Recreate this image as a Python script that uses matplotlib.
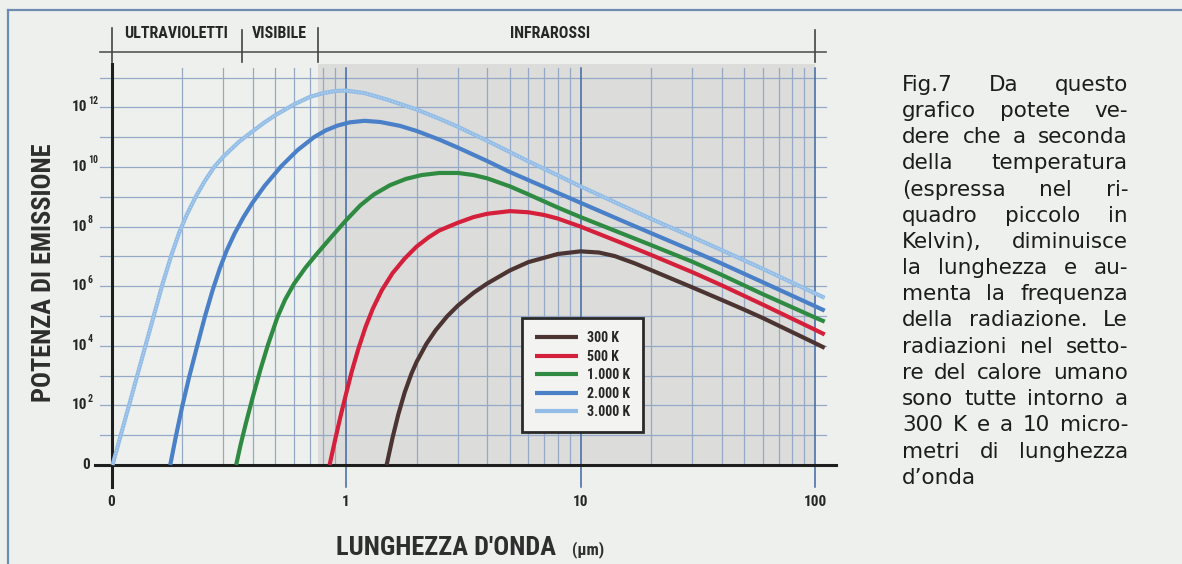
import matplotlib
matplotlib.use("Agg")
import numpy as np
import matplotlib.pyplot as plt
import matplotlib.transforms as mtransforms
from matplotlib.patches import Rectangle

# ---------------------------------------------------------------- data
temperatures = ["300 K", "500 K", "1.000 K", "2.000 K", "3.000 K"]
colors = ["#4b3431", "#d5203b", "#2f8a42", "#4a80c8", "#93bde6"]

# wavelength (µm) and log10 of the emitted power for each temperature
wl_300 = [1.49, 1.58, 1.67, 1.78, 1.9, 2.0, 2.2, 2.41, 2.7, 3.0, 3.5, 4.0, 5.0, 6.0, 8.0, 10,
          12, 14, 17, 20, 30, 40, 50, 60, 100, 110]
lp_300 = [0, 0.92, 1.69, 2.44, 3.06, 3.46, 4.06, 4.52, 4.99, 5.35, 5.78, 6.09, 6.53, 6.81, 7.08, 7.17,
          7.13, 7.01, 6.77, 6.54, 5.96, 5.54, 5.21, 4.93, 4.09, 3.93]

wl_500 = [0.851, 0.9, 0.95, 1.0, 1.06, 1.13, 1.21, 1.3, 1.42, 1.58, 1.78, 2.0, 2.25, 2.5, 3.0,
          3.5, 4.0, 5.0, 6.0, 7.0, 8.0, 10, 15, 20, 30, 40, 60, 100, 110]
lp_500 = [0, 0.87, 1.67, 2.38, 3.16, 3.91, 4.62, 5.24, 5.86, 6.44, 6.93, 7.33, 7.64, 7.87, 8.13,
          8.32, 8.43, 8.52, 8.48, 8.39, 8.27, 8.0, 7.45, 7.05, 6.47, 6.03, 5.38, 4.54, 4.38]

wl_1000 = [0.34, 0.355, 0.375, 0.40, 0.43, 0.465, 0.51, 0.55, 0.60, 0.67, 0.75, 0.87, 1.0, 1.15,
           1.31, 1.54, 1.8, 2.1, 2.5, 3.0, 3.5, 4.0, 5.0, 6.0, 8.0, 10, 15, 20, 30, 40, 60, 100, 110]
lp_1000 = [0, 0.67, 1.43, 2.27, 3.16, 4.04, 4.96, 5.55, 6.08, 6.61, 7.08, 7.67, 8.21, 8.71,
           9.07, 9.39, 9.60, 9.73, 9.80, 9.80, 9.73, 9.62, 9.35, 9.08, 8.64, 8.32, 7.77, 7.38, 6.82,
           6.38, 5.73, 4.95, 4.81]

wl_2000 = [0.178, 0.188, 0.2, 0.214, 0.232, 0.25, 0.27, 0.29, 0.31, 0.335, 0.365, 0.4, 0.45, 0.53,
           0.62, 0.73, 0.82, 0.92, 1.04, 1.2, 1.4, 1.7, 2.0, 2.5, 3, 4, 5, 6, 8, 10, 15, 20, 30,
           40, 60, 100, 110]
lp_2000 = [0, 0.95, 1.95, 2.93, 4.0, 4.97, 5.87, 6.61, 7.20, 7.77, 8.31, 8.81, 9.37, 10.03,
           10.56, 11.0, 11.23, 11.39, 11.50, 11.55, 11.51, 11.38, 11.21, 10.92, 10.65, 10.20, 9.83,
           9.56, 9.13, 8.80, 8.20, 7.78, 7.19, 6.76, 6.13, 5.33, 5.18]

wl_3000 = [0.101, 0.108, 0.12, 0.135, 0.15, 0.165, 0.18, 0.195, 0.21, 0.23, 0.25, 0.274, 0.3,
           0.35, 0.4, 0.45, 0.5, 0.6, 0.7, 0.8, 0.9, 1.0, 1.2, 1.5, 2.0, 2.5, 3, 4, 5, 6, 8, 10,
           15, 20, 30, 40, 60, 100, 110]
lp_3000 = [0, 0.83, 2.13, 3.59, 4.89, 6.07, 7.04, 7.83, 8.42, 9.04, 9.53, 10.0, 10.35,
           10.85, 11.2, 11.5, 11.74, 12.1, 12.35, 12.48, 12.55, 12.565, 12.48, 12.26, 11.93, 11.62,
           11.35, 10.88, 10.5, 10.19, 9.72, 9.35, 8.71, 8.26, 7.65, 7.21, 6.58, 5.76, 5.61]

series_wl = [wl_300, wl_500, wl_1000, wl_2000, wl_3000]
series_lp = [lp_300, lp_500, lp_1000, lp_2000, lp_3000]

x_ticks = [0.1, 1, 10, 100]
x_tick_labels = ["0", "1", "10", "100"]
y_exponents = [2, 4, 6, 8, 10, 12]

band_names = ["ULTRAVIOLETTI", "VISIBILE", "INFRAROSSI"]
band_edges = [0.1, 0.36, 0.76, 100]
band_label_x = [0.188, 0.518, 7.4]

caption_lines = [
    "Fig.7 Da questo",
    "grafico potete ve-",
    "dere che a seconda",
    "della temperatura",
    "(espressa nel ri-",
    "quadro piccolo in",
    "Kelvin), diminuisce",
    "la lunghezza e au-",
    "menta la frequenza",
    "della radiazione. Le",
    "radiazioni nel setto-",
    "re del calore umano",
    "sono tutte intorno a",
    "300 K e a 10 micro-",
    "metri di lunghezza",
    "d\u2019onda",
]

# ---------------------------------------------------------------- figure
W, H = 1182, 564
BG = "#eef0ed"
NARROW = dict(family=["Roboto Condensed", "DejaVu Sans"], stretch="condensed", weight="bold")
INK = "#262626"
GRID = "#95a9c6"
GRID_MAJOR = "#3d68a6"

fig = plt.figure(figsize=(W / 100, H / 100), dpi=100, facecolor=BG)


def fx(px):
    return px / W


def fy(px):
    return 1 - px / H


# outer page frame
fig.add_artist(plt.Line2D([fx(8), fx(8)], [fy(10), fy(564)], color="#6d8db0", lw=1.6))
fig.add_artist(plt.Line2D([fx(8), 1.0], [fy(10), fy(10)], color="#6d8db0", lw=1.6))

# plotting area, positioned so the log decades line up with the grid
ax = fig.add_axes([fx(95), fy(490), (840 - 95) / W, (490 - 60) / H])
ax.set_xscale("log")
ax.set_yscale("log")
ax.set_xlim(10 ** -1.0704, 10 ** 2.1066)
ax.set_ylim(10 ** -0.839, 10 ** 13.591)
ax.set_axis_off()
ax.patch.set_alpha(0)

y_top = 10 ** 13.46
x_right = 100
# shaded infrared region
ax.add_patch(Rectangle((band_edges[2], 1), x_right - band_edges[2], y_top - 1,
                       facecolor="#dcdddb", edgecolor="none", zorder=0))

# horizontal grid (one line per decade)
for e in range(1, 14):
    ax.plot([10 ** -1.049, 10 ** 2.047], [10 ** e, 10 ** e], color=GRID, lw=0.9, zorder=1)

# vertical grid
for dec in [0.1, 1, 10]:
    for m in range(2, 10):
        ax.plot([m * dec, m * dec], [1, 10 ** 13.32], color=GRID, lw=0.9, zorder=1)
for v in [1, 10, 100]:
    ax.plot([v, v], [10 ** -0.74, 10 ** 13.32], color=GRID_MAJOR, lw=1.1, zorder=1)

# axes lines
ax.plot([10 ** -1.07, 10 ** 2.09], [1, 1], color="#1e1e1e", lw=2.2, zorder=3, clip_on=False)
ax.plot([0.1, 0.1], [10 ** -0.74, 10 ** 13.47], color="#1e1e1e", lw=2.2, zorder=3, clip_on=False)

# emission curves
handles = []
for wl, lp, col, lab in zip(series_wl, series_lp, colors, temperatures):
    (h,) = ax.plot(wl, 10.0 ** np.asarray(lp), color=col, lw=3.0, solid_capstyle="butt",
                   solid_joinstyle="round", zorder=4, label=lab, clip_on=False)
    handles.append(h)
ax.plot(wl_3000, 10.0 ** np.asarray(lp_3000), color="white", lw=0.8, alpha=0.45,
        dashes=(1, 1.6), zorder=5, clip_on=False)

leg = ax.legend(handles=handles, loc="upper left", bbox_to_anchor=(fx(522), fy(318)),
                bbox_transform=fig.transFigure, frameon=True, fancybox=False,
                prop=dict(NARROW, size=10), handlelength=3.1, handletextpad=0.6,
                labelspacing=0.32, borderpad=0.95, borderaxespad=0)
leg.get_frame().set_edgecolor("#2a2a2a")
leg.get_frame().set_linewidth(2.0)
leg.get_frame().set_facecolor("#f3f3f1")
leg.get_frame().set_alpha(1)
leg.set_zorder(10)
for t in leg.get_texts():
    t.set_color(INK)

# tick labels
xt = mtransforms.blended_transform_factory(ax.transData, fig.transFigure)
yt = mtransforms.blended_transform_factory(fig.transFigure, ax.transData)
for v, lab in zip(x_ticks, x_tick_labels):
    ax.text(v, fy(502), lab, transform=xt, ha="center", va="center", size=11,
            color=INK, **NARROW)
ax.text(fx(90), 1, "0", transform=yt, ha="right", va="center", size=11, color=INK, **NARROW)
for e in y_exponents:
    ax.text(fx(87), 10 ** e, "10", transform=yt, ha="right", va="center", size=11,
            color=INK, **NARROW)
    ax.text(fx(88), 10 ** (e + 0.22), str(e), transform=yt, ha="left", va="center", size=7,
            color=INK, **NARROW)

# axis titles
fig.text(fx(556), fy(548), "LUNGHEZZA D'ONDA", ha="right", va="center", size=19,
         color="#2e2e2e", **NARROW)
fig.text(fx(572), fy(550), "(\u00b5m)", ha="left", va="center", size=12, color="#2e2e2e", **NARROW)
fig.text(fx(44), fy(273), "POTENZA DI EMISSIONE", ha="center", va="center", rotation=90,
         size=19, color="#2e2e2e", **NARROW)

# spectral bands above the plot
band_y = fy(52)
ax.plot([10 ** -1.049, 10 ** 2.047], [band_y, band_y], transform=xt, color="#555555",
        lw=1.2, clip_on=False)
for edge, top in zip(band_edges, [28, 30, 28, 30]):
    ax.plot([edge, edge], [fy(top), fy(62)], transform=xt, color="#444444", lw=1.2, clip_on=False)
for name, xpos in zip(band_names, band_label_x):
    ax.text(xpos, fy(34), name, transform=xt, ha="center", va="center", size=11.5,
            color=INK, **NARROW)

# caption, justified between two margins
fig.canvas.draw()
renderer = fig.canvas.get_renderer()
left_px, right_px = 902, 1128
CAP_SIZE = 15.5
for i, line in enumerate(caption_lines):
    base = fy(90.7 + 26.2 * i)
    words = line.split(" ")
    texts = [fig.text(0, base, w, ha="left", va="baseline", family="DejaVu Sans",
                      size=CAP_SIZE, color="#1c1c1c") for w in words]
    widths = [t.get_window_extent(renderer).width for t in texts]
    last = i == len(caption_lines) - 1
    if last or len(words) == 1:
        space = 0.3 * CAP_SIZE * 100 / 72
        x = left_px
        for t, w in zip(texts, widths):
            t.set_x(fx(x))
            x += w + space
    else:
        gap = (right_px - left_px - sum(widths)) / (len(words) - 1)
        x = left_px
        for t, w in zip(texts, widths):
            t.set_x(fx(x))
            x += w + gap

fig.savefig("out.png", dpi=100, facecolor=BG)
